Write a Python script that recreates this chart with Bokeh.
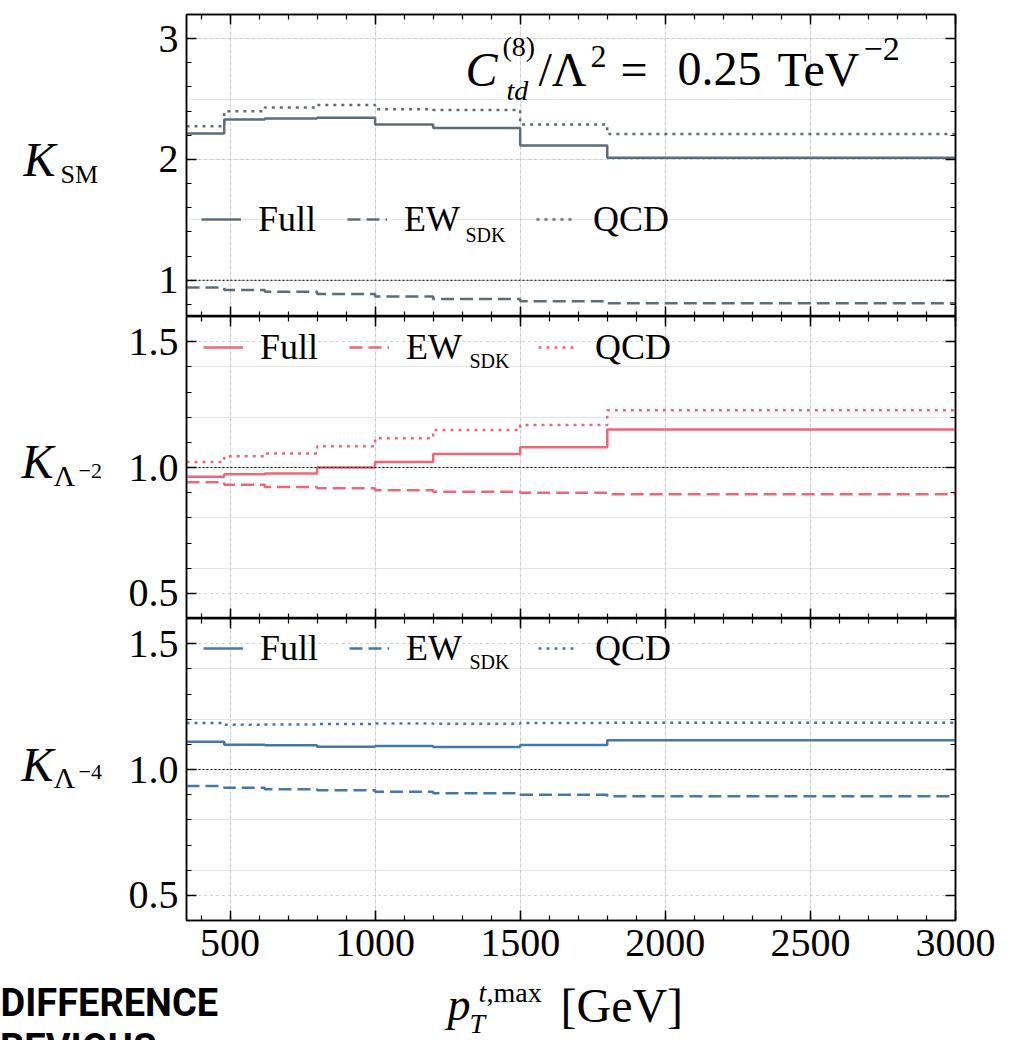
from bokeh.plotting import figure
from bokeh.models import (Range1d, LinearAxis, FixedTicker, Grid, Span, Label,
                          Legend, LegendItem, NumeralTickFormatter, BasicTickFormatter,
                          CustomLabelingPolicy)
from bokeh.core.properties import value
from bokeh.layouts import column, row
from bokeh.embed import file_html
from bokeh.resources import INLINE

# ---------------- data ----------------
edges = [350, 480, 620, 800, 1000, 1200, 1500, 1800, 3000]

sm_full = [2.215, 2.33, 2.34, 2.345, 2.29, 2.26, 2.115, 2.015]
sm_ew   = [0.94, 0.92, 0.905, 0.887, 0.865, 0.845, 0.826, 0.81]
sm_qcd  = [2.275, 2.40, 2.43, 2.45, 2.415, 2.41, 2.29, 2.21]

l2_full = [0.963, 0.973, 0.976, 1.0, 1.022, 1.054, 1.08, 1.151]
l2_ew   = [0.941, 0.931, 0.923, 0.918, 0.91, 0.904, 0.90, 0.894]
l2_qcd  = [1.022, 1.045, 1.056, 1.084, 1.116, 1.149, 1.169, 1.227]

l4_full = [1.110, 1.098, 1.096, 1.090, 1.093, 1.089, 1.097, 1.116]
l4_ew   = [0.934, 0.927, 0.922, 0.918, 0.912, 0.906, 0.90, 0.894]
l4_qcd  = [1.185, 1.178, 1.179, 1.181, 1.183, 1.182, 1.185, 1.186]

ref_value = 1.0

x_major = [500, 1000, 1500, 2000, 2500, 3000]
x_minor = list(range(400, 3001, 100))
y1_major = [1, 2, 3]
y1_minor = [round(0.8 + 0.2 * i, 1) for i in range(13)]
y2_major = [0.5, 1.0, 1.5]
y2_minor = [round(0.4 + 0.1 * i, 1) for i in range(13)]

legend_labels = ["Full", "EW", "QCD"]

SERIF = "Liberation Serif"
C_SM, C_L2, C_L4 = "#5d6d7a", "#ee6677", "#4477aa"
GRID_C = "#b9c3c8"

HIDE_CODE = """
try { for (const i of Array.from(indices)) { indices.unset(i) } } catch (e) {}
return indices
"""


def style_axis(ax, show_labels):
    ax.axis_line_color = "black"
    ax.axis_line_width = 1.5
    ax.major_tick_in = 10
    ax.major_tick_out = 0
    ax.minor_tick_in = 5
    ax.minor_tick_out = 0
    ax.major_tick_line_color = "black"
    ax.major_tick_line_width = 1.5
    ax.minor_tick_line_color = "black"
    ax.minor_tick_line_width = 1.2
    if show_labels:
        ax.major_label_text_font = SERIF
        ax.major_label_text_font_size = "40px"
        ax.major_label_text_color = "black"
    else:
        ax.major_label_text_font_size = "0px"
        ax.major_label_standoff = 0
        ax.major_label_policy = CustomLabelingPolicy(code=HIDE_CODE)


def make_panel(y_lo, y_hi, y_major, y_minor, y_fmt, btop, bbot, xlabels,
               full, ew, qcd, color, leg_x, leg_y):
    p = figure(frame_width=769, frame_height=302,
               x_range=Range1d(edges[0], edges[-1]), y_range=Range1d(y_lo, y_hi),
               x_axis_location=None, y_axis_location=None,
               toolbar_location=None, output_backend="svg",
               min_border_left=66, min_border_right=45,
               min_border_top=btop, min_border_bottom=bbot,
               background_fill_color="white", border_fill_color="white")
    p.outline_line_color = "black"
    p.outline_line_width = 1.5

    xt = FixedTicker(ticks=x_major, minor_ticks=x_minor)
    yt = FixedTicker(ticks=y_major, minor_ticks=y_minor)

    p.add_layout(Grid(dimension=0, ticker=xt, grid_line_color=GRID_C,
                      grid_line_dash="2 4", grid_line_width=1.2))
    p.add_layout(Grid(dimension=1, ticker=yt, grid_line_color=GRID_C,
                      grid_line_dash="2 4", grid_line_width=1.2))

    xb = LinearAxis(ticker=xt)
    style_axis(xb, xlabels)
    if xlabels:
        xb.major_label_standoff = 9
    p.add_layout(xb, "below")
    xa = LinearAxis(ticker=xt)
    style_axis(xa, False)
    p.add_layout(xa, "above")

    yl = LinearAxis(ticker=yt, formatter=y_fmt)
    style_axis(yl, True)
    yl.major_label_standoff = 8
    p.add_layout(yl, "left")
    yr = LinearAxis(ticker=yt)
    style_axis(yr, False)
    p.add_layout(yr, "right")

    p.add_layout(Span(location=ref_value, dimension="width", line_color="black",
                      line_dash="2 2", line_width=1.2))

    r_full = p.step(x=edges, y=full + [full[-1]], mode="after",
                    line_color=color, line_width=2.5)
    r_ew = p.step(x=edges, y=ew + [ew[-1]], mode="after",
                  line_color=color, line_width=2.5, line_dash="13 6")
    r_qcd = p.step(x=edges, y=qcd + [qcd[-1]], mode="after",
                   line_color=color, line_width=2.5, line_dash="3 5")

    leg = Legend(items=[
        LegendItem(label=value(legend_labels[0]), renderers=[r_full]),
        LegendItem(label=value(legend_labels[1] + "\u00a0" * 5), renderers=[r_ew]),
        LegendItem(label=value(legend_labels[2]), renderers=[r_qcd]),
    ], orientation="horizontal", location=(leg_x, leg_y),
        glyph_width=40, glyph_height=20, label_standoff=17, spacing=31,
        padding=0, margin=0, border_line_alpha=0, background_fill_alpha=0,
        label_text_font=SERIF, label_text_font_size="36px",
        label_text_color="black")
    p.add_layout(leg)
    return p


def blank(width, height):
    f = figure(width=width, height=height, x_range=Range1d(0, 1), y_range=Range1d(0, 1),
               x_axis_location=None, y_axis_location=None,
               toolbar_location=None, output_backend="svg",
               min_border=0, background_fill_color="white", border_fill_color="white")
    f.outline_line_color = None
    f.grid.visible = False
    return f


def lab(p, x, y, text, size, italic=False, font=SERIF, bold=False):
    # y is the alphabetic baseline (screen units, upward); drawn with a middle anchor
    style = "italic" if italic else ("bold" if bold else "normal")
    p.add_layout(Label(x=x, y=y + 0.34 * size, x_units="screen", y_units="screen", text=text,
                       text_font=font, text_font_size=f"{size}px",
                       text_font_style=style, text_color="black",
                       text_align="left", text_baseline="middle"))


p1 = make_panel(0.7, 3.2, y1_major, y1_minor, BasicTickFormatter(), 14, 0, False,
                sm_full, sm_ew, sm_qcd, C_SM, 15, 76)
p2 = make_panel(0.4, 1.6, y2_major, y2_minor, NumeralTickFormatter(format="0.0"), 0, 0, False,
                l2_full, l2_ew, l2_qcd, C_L2, 17, 250)
p3 = make_panel(0.4, 1.6, y2_major, y2_minor, NumeralTickFormatter(format="0.0"), 0, 54, True,
                l4_full, l4_ew, l4_qcd, C_L4, 17, 251)

# legend subscripts (frame-relative baselines)
lab(p1, 279, 316 - 241, "SDK", 20)
lab(p2, 283, 618 - 367, "SDK", 20)
lab(p3, 283, 920 - 668, "SDK", 20)

# annotation in top panel (frame-relative baselines)
lab(p1, 279, 316 - 85, "C", 48, italic=True)
lab(p1, 316, 316 - 56, "(8)", 28)
lab(p1, 320, 316 - 100, "td", 28, italic=True)
lab(p1, 352, 316 - 85, "/\u039b", 48)
lab(p1, 404, 316 - 67, "2", 32)
lab(p1, 434, 316 - 85, "=", 48)
lab(p1, 491, 316 - 85, "0.25", 48)
lab(p1, 591, 316 - 85, "TeV", 48)
lab(p1, 677, 316 - 60, "\u22122", 34)

# left strip with the row labels
LH = 972
left = blank(120, LH)
lab(left, 23, LH - 175, "K", 48, italic=True)
lab(left, 60, LH - 183, "SM", 26)
lab(left, 21, LH - 477, "K", 48, italic=True)
lab(left, 53, LH - 485, "\u039b", 30)
lab(left, 78, LH - 478, "\u22122", 22)
lab(left, 21, LH - 780, "K", 48, italic=True)
lab(left, 53, LH - 787, "\u039b", 30)
lab(left, 78, LH - 779, "\u22124", 22)

# bottom strip with the axis title
BH = 68
BT = 1040
bottom = blank(1000, BH)
lab(bottom, 447, BT - 1018, "p", 46, italic=True)
lab(bottom, 469, BT - 1031, "T", 28, italic=True)
lab(bottom, 478, BT - 1000, "t", 28, italic=True)
lab(bottom, 486, BT - 1000, ",max", 28)
lab(bottom, 560, BT - 1019, "[GeV]", 48)
lab(bottom, 0, BT - 1013, "DIFFERENCE", 38, font="Roboto", bold=True)
lab(bottom, -25, BT - 1058, "PREVIOUS", 38, font="Roboto", bold=True)

layout = column(row(left, column(p1, p2, p3, spacing=0), spacing=0), bottom, spacing=0)
open("out.html", "w").write(file_html(layout, INLINE))
